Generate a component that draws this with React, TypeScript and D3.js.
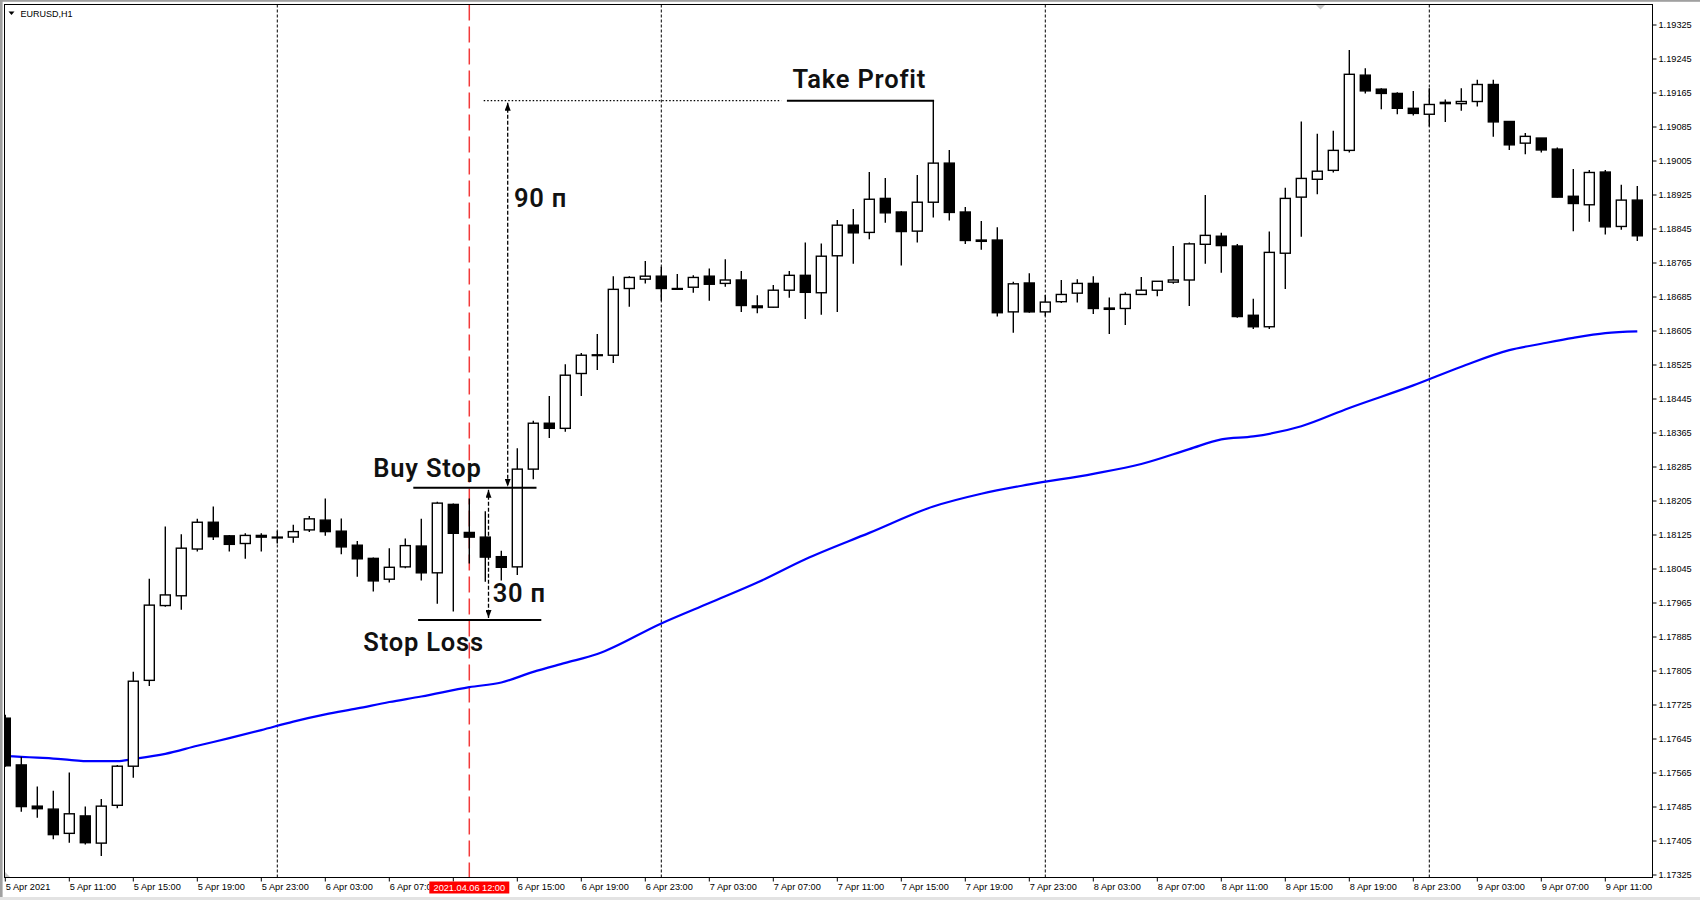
import React from 'react';
import * as d3 from 'd3';

const W = 1700;
const H = 900;

// OHLC, EURUSD H1, one candle per hour starting 5 Apr 2021 07:00
const open = [
  1.17694, 1.17584, 1.17487, 1.1748, 1.17423, 1.17464, 1.174, 1.17489, 1.17581, 1.17783,
  1.17959, 1.17982, 1.18092, 1.18155, 1.18123, 1.18105, 1.18124, 1.1812, 1.1812, 1.18137,
  1.1816, 1.18134, 1.18101, 1.1807, 1.18021, 1.1805, 1.18099, 1.18036, 1.18197, 1.18131,
  1.1812, 1.18074, 1.1805, 1.1828, 1.18388, 1.18376, 1.18505, 1.18549, 1.18548, 1.18705,
  1.18727, 1.18734, 1.18705, 1.18708, 1.18734, 1.18717, 1.18725, 1.18664, 1.18661, 1.18701,
  1.18736, 1.18695, 1.18782, 1.18854, 1.18837, 1.18917, 1.18885, 1.1884, 1.18908, 1.19,
  1.18885, 1.18819, 1.18819, 1.1865, 1.18718, 1.1865, 1.18674, 1.18694, 1.18717, 1.18659,
  1.18658, 1.18691, 1.18701, 1.1872, 1.18725, 1.18809, 1.18828, 1.18805, 1.18642, 1.18615,
  1.18788, 1.1892, 1.18962, 1.18983, 1.1903, 1.19207, 1.19174, 1.19164, 1.19129, 1.19115,
  1.19143, 1.1914, 1.19145, 1.19185, 1.19098, 1.19047, 1.19059, 1.19033, 1.18922, 1.18902,
  1.18979, 1.18851, 1.18913,
];
const high = [
  1.17702, 1.17603, 1.17533, 1.17523, 1.17566, 1.17486, 1.17504, 1.17584, 1.17803, 1.18022,
  1.18145, 1.18127, 1.18163, 1.18192, 1.18125, 1.18129, 1.18129, 1.18135, 1.18149, 1.1817,
  1.18211, 1.18164, 1.18111, 1.18072, 1.18094, 1.18117, 1.18163, 1.18203, 1.18199, 1.18211,
  1.18181, 1.18088, 1.18329, 1.18394, 1.18452, 1.18527, 1.18553, 1.18598, 1.18734, 1.18734,
  1.1877, 1.18756, 1.18739, 1.18736, 1.18752, 1.18774, 1.18746, 1.18689, 1.18713, 1.18746,
  1.18813, 1.18811, 1.18866, 1.18892, 1.18979, 1.18965, 1.18887, 1.18972, 1.19147, 1.19031,
  1.18897, 1.18864, 1.18849, 1.18721, 1.18741, 1.1869, 1.18725, 1.18727, 1.18734, 1.18684,
  1.18696, 1.18732, 1.18722, 1.18805, 1.18813, 1.18925, 1.18836, 1.1881, 1.18681, 1.18839,
  1.18942, 1.19098, 1.19069, 1.19076, 1.19266, 1.19223, 1.19176, 1.19167, 1.1917, 1.19176,
  1.1915, 1.19176, 1.19196, 1.19196, 1.19098, 1.19071, 1.19059, 1.19037, 1.18986, 1.18984,
  1.18984, 1.18949, 1.18946,
];
const low = [
  1.1758, 1.17474, 1.1746, 1.17409, 1.17401, 1.17397, 1.1737, 1.17482, 1.17554, 1.1777,
  1.17956, 1.17949, 1.18086, 1.18113, 1.18086, 1.18069, 1.18086, 1.18105, 1.18107, 1.18132,
  1.18123, 1.1808, 1.18027, 1.17992, 1.18013, 1.18047, 1.18018, 1.17963, 1.17945, 1.18058,
  1.18015, 1.18018, 1.18031, 1.18256, 1.18353, 1.18368, 1.18452, 1.18513, 1.1853, 1.18662,
  1.18717, 1.18676, 1.18705, 1.18695, 1.18676, 1.18709, 1.1865, 1.18647, 1.1866, 1.18683,
  1.18633, 1.18643, 1.1865, 1.18763, 1.18821, 1.1886, 1.18759, 1.18813, 1.18872, 1.18865,
  1.1881, 1.18796, 1.18639, 1.18601, 1.18648, 1.1864, 1.18671, 1.18672, 1.18645, 1.18598,
  1.18619, 1.1869, 1.18687, 1.18716, 1.18664, 1.18763, 1.18742, 1.18636, 1.1861, 1.1861,
  1.18704, 1.18827, 1.18927, 1.18978, 1.19025, 1.19164, 1.19127, 1.19115, 1.19112, 1.19086,
  1.19097, 1.19123, 1.19133, 1.19062, 1.19031, 1.19021, 1.19025, 1.18919, 1.1884, 1.18862,
  1.18832, 1.18843, 1.18817,
];
const close = [
  1.17582, 1.17486, 1.17481, 1.1742, 1.17469, 1.17401, 1.17487, 1.17581, 1.17781, 1.1796,
  1.17984, 1.18094, 1.18155, 1.18121, 1.18103, 1.18124, 1.1812, 1.1812, 1.18133, 1.18163,
  1.18133, 1.18097, 1.18069, 1.18017, 1.18049, 1.181, 1.18036, 1.182, 1.18129, 1.1812,
  1.18073, 1.18049, 1.1828, 1.18388, 1.18376, 1.18501, 1.18548, 1.18549, 1.18703, 1.18731,
  1.18734, 1.18705, 1.18705, 1.18731, 1.18715, 1.18725, 1.18665, 1.1866, 1.18701, 1.18736,
  1.18696, 1.18781, 1.18854, 1.18836, 1.18915, 1.18883, 1.18839, 1.18908, 1.19, 1.18884,
  1.18818, 1.18816, 1.18648, 1.18716, 1.1865, 1.18673, 1.18691, 1.18717, 1.18658, 1.18656,
  1.18691, 1.18701, 1.18722, 1.18725, 1.1881, 1.1883, 1.18806, 1.18639, 1.18615, 1.1879,
  1.18917, 1.18964, 1.18981, 1.1903, 1.19209, 1.1917, 1.19164, 1.19129, 1.19117, 1.19138,
  1.1914, 1.19145, 1.19185, 1.19097, 1.19043, 1.19063, 1.19031, 1.1892, 1.18905, 1.18978,
  1.1885, 1.18913, 1.18829,
];

// Moving average (blue) read at these candle positions
const maIndex = [0, 1, 2, 3, 4, 5, 6, 7, 8, 10, 12, 14, 16, 18, 20, 22, 24, 26, 29, 31, 33, 35, 37, 41, 44, 47, 50, 54, 58, 61, 64, 68, 71, 74, 76, 78, 81, 84, 88, 91, 94, 96, 98, 100, 102];
const maValue = [1.17605, 1.17603, 1.17601, 1.17599, 1.17596, 1.17593, 1.17593, 1.17593, 1.17598, 1.1761, 1.17629, 1.17647, 1.17666, 1.17686, 1.17703, 1.17717, 1.17732, 1.17745, 1.17767, 1.17778, 1.17803, 1.17824, 1.17845, 1.17917, 1.17965, 1.18013, 1.18068, 1.1813, 1.18192, 1.18222, 1.18244, 1.18269, 1.18292, 1.18327, 1.1835, 1.18357, 1.18381, 1.18424, 1.18477, 1.18521, 1.1856, 1.18575, 1.18589, 1.186, 1.18604];

const xTickIndex = [0, 4, 8, 12, 16, 20, 24, 28, 32, 36, 40, 44, 48, 52, 56, 60, 64, 68, 72, 76, 80, 84, 88, 92, 96, 100];
const xTickLabels = [
  '5 Apr 2021', '5 Apr 11:00', '5 Apr 15:00', '5 Apr 19:00', '5 Apr 23:00',
  '6 Apr 03:00', '6 Apr 07:00', '6 Apr 11:00', '6 Apr 15:00', '6 Apr 19:00', '6 Apr 23:00',
  '7 Apr 03:00', '7 Apr 07:00', '7 Apr 11:00', '7 Apr 15:00', '7 Apr 19:00', '7 Apr 23:00',
  '8 Apr 03:00', '8 Apr 07:00', '8 Apr 11:00', '8 Apr 15:00', '8 Apr 19:00', '8 Apr 23:00',
  '9 Apr 03:00', '9 Apr 07:00', '9 Apr 11:00',
];
const yTickValues = [
  1.17325, 1.17405, 1.17485, 1.17565, 1.17645, 1.17725, 1.17805, 1.17885, 1.17965, 1.18045,
  1.18125, 1.18205, 1.18285, 1.18365, 1.18445, 1.18525, 1.18605, 1.18685, 1.18765, 1.18845,
  1.18925, 1.19005, 1.19085, 1.19165, 1.19245, 1.19325,
];
const daySeparators = [17, 41, 65, 89];
const markerIndex = 29;
const markerLabel = '2021.04.06 12:00';
const symbolLabel = 'EURUSD,H1';

// Trade setup levels
const buyStop = 1.18236;
const stopLoss = 1.17925;
const takeProfit = 1.19147;

export default function App() {
  const left = 4.5, top = 4.5, right = 1652.5, bottom = 877.5;
  const x = d3.scaleLinear().domain([0, 102]).range([5.3, 1637.3]);
  const y = d3.scaleLinear().domain([1.17325, 1.19325]).range([875, 25]);

  const maLine = d3.line<number>()
    .x((d, i) => x(maIndex[i]))
    .y((d) => y(d))
    .curve(d3.curveMonotoneX)(maValue) || '';

  const axisFont = "'Liberation Sans', Arial, sans-serif";
  const annFont = "Roboto, 'Open Sans', sans-serif";
  const bw = 5;
  const mx = x(markerIndex);
  const boxL = mx - 40, boxR = mx + 40;

  return (
    <svg width={W} height={H} style={{ position: 'absolute', left: 0, top: 0, background: '#fff' }}>
      <defs>
        <clipPath id="plot">
          <rect x={left} y={top} width={right - left} height={bottom - top} />
        </clipPath>
        <clipPath id="xlab">
          <rect x={0} y={bottom} width={boxL} height={30} />
          <rect x={boxR} y={bottom} width={W - boxR} height={30} />
        </clipPath>
        <marker id="ah" viewBox="0 0 8 6" refX="8" refY="3" markerWidth="8" markerHeight="6"
          markerUnits="userSpaceOnUse" orient="auto-start-reverse">
          <path d="M0,0 L8,3 L0,6 z" fill="#000" />
        </marker>
      </defs>
      <rect x={0} y={0} width={W} height={H} fill="#fff" />
      {/* window border */}
      <rect x={0} y={0} width={W} height={1.8} fill="#a0a0a0" />
      <rect x={0} y={0} width={2.6} height={H} fill="#a0a0a0" />
      <rect x={0} y={897} width={W} height={3} fill="#e3e3e3" />

      <g clipPath="url(#plot)">
        {daySeparators.map((d) => (
          <line key={d} x1={x(d)} x2={x(d)} y1={top} y2={bottom} stroke="#000" strokeWidth={1} strokeDasharray="3,2" />
        ))}
        <line x1={mx} x2={mx} y1={top} y2={bottom} stroke="#f23a3a" strokeWidth={1.5} strokeDasharray="16,6" />
        <path d={maLine} fill="none" stroke="#0000ff" strokeWidth={2.2} />
        {open.map((o, i) => {
          const c = close[i];
          const cx = x(i);
          const yt = y(Math.max(o, c));
          const yb = y(Math.min(o, c));
          const up = c >= o;
          return (
            <g key={i}>
              <line x1={cx} x2={cx} y1={y(high[i])} y2={y(low[i])} stroke="#000" strokeWidth={1.4} />
              <rect x={cx - bw} y={yt} width={bw * 2} height={Math.max(yb - yt, 0.8)}
                fill={up ? '#fff' : '#000'} stroke="#000" strokeWidth={1.4} />
            </g>
          );
        })}
        <polygon points={`${left},${bottom - 6} ${left},${bottom} ${left + 6},${bottom}`} fill="#c8c8c8" />
        <polygon points="1316,5 1325,5 1320.5,9.5" fill="#c8c8c8" />
      </g>

      {/* annotations */}
      <g>
        <line x1={x(29.9)} x2={x(48.5)} y1={y(takeProfit)} y2={y(takeProfit)} stroke="#000" strokeWidth={1.3} strokeDasharray="1.5,2" />
        <line x1={x(48.85)} x2={x(58.05)} y1={y(takeProfit)} y2={y(takeProfit)} stroke="#000" strokeWidth={2} />
        <line x1={x(25.5)} x2={x(33.2)} y1={y(buyStop)} y2={y(buyStop)} stroke="#000" strokeWidth={2} />
        <line x1={x(25.8)} x2={x(33.5)} y1={y(stopLoss)} y2={y(stopLoss)} stroke="#000" strokeWidth={2} />
        <line x1={x(31.4)} x2={x(31.4)} y1={y(takeProfit) + 2} y2={y(buyStop) - 1} stroke="#000" strokeWidth={1.3}
          strokeDasharray="4,2" markerStart="url(#ah)" markerEnd="url(#ah)" />
        <line x1={x(30.2)} x2={x(30.2)} y1={y(buyStop) + 2} y2={y(stopLoss) - 2} stroke="#000" strokeWidth={1.3}
          strokeDasharray="4,2" markerStart="url(#ah)" markerEnd="url(#ah)" />
        <g fontFamily={annFont} fontWeight={600} fontSize={25.5} letterSpacing={0.8} fill="#111">
          <text x={792.5} y={88}>Take Profit</text>
          <text x={514} y={207}>90 п</text>
          <text x={373.3} y={476.7}>Buy Stop</text>
          <text x={363.3} y={650.7}>Stop Loss</text>
          <text x={492.7} y={601.7}>30 п</text>
        </g>
      </g>

      {/* frame */}
      <rect x={left} y={top} width={right - left} height={bottom - top} fill="none" stroke="#000" strokeWidth={1} />

      {/* y axis */}
      <g fontFamily={axisFont} fontSize={9.2} fill="#000">
        {yTickValues.map((v) => (
          <g key={v}>
            <line x1={right} x2={right + 4} y1={y(v)} y2={y(v)} stroke="#000" strokeWidth={1} />
            <text x={right + 6} y={y(v)} dy="0.35em">{v.toFixed(5)}</text>
          </g>
        ))}
      </g>

      {/* x axis */}
      <g fontFamily={axisFont} fontSize={9.2} fill="#000">
        {xTickIndex.map((idx, k) => (
          <line key={idx} x1={x(idx)} x2={x(idx)} y1={bottom} y2={bottom + 4} stroke="#000" strokeWidth={1} />
        ))}
        <g clipPath="url(#xlab)">
          {xTickIndex.map((idx, k) => (
            x(idx) > boxL && x(idx) < boxR ? null :
            <text key={idx} x={x(idx) + 0.5} y={889.5}>{xTickLabels[k]}</text>
          ))}
        </g>
        <rect x={boxL} y={881.5} width={80} height={12} fill="#ff0000" />
        <text x={mx} y={891} textAnchor="middle" fill="#fff">{markerLabel}</text>
      </g>

      {/* symbol label */}
      <polygon points="8.5,11.5 14.5,11.5 11.5,15" fill="#000" />
      <text x={20.5} y={16.5} fontFamily={axisFont} fontSize={9} fill="#000">{symbolLabel}</text>
    </svg>
  );
}
